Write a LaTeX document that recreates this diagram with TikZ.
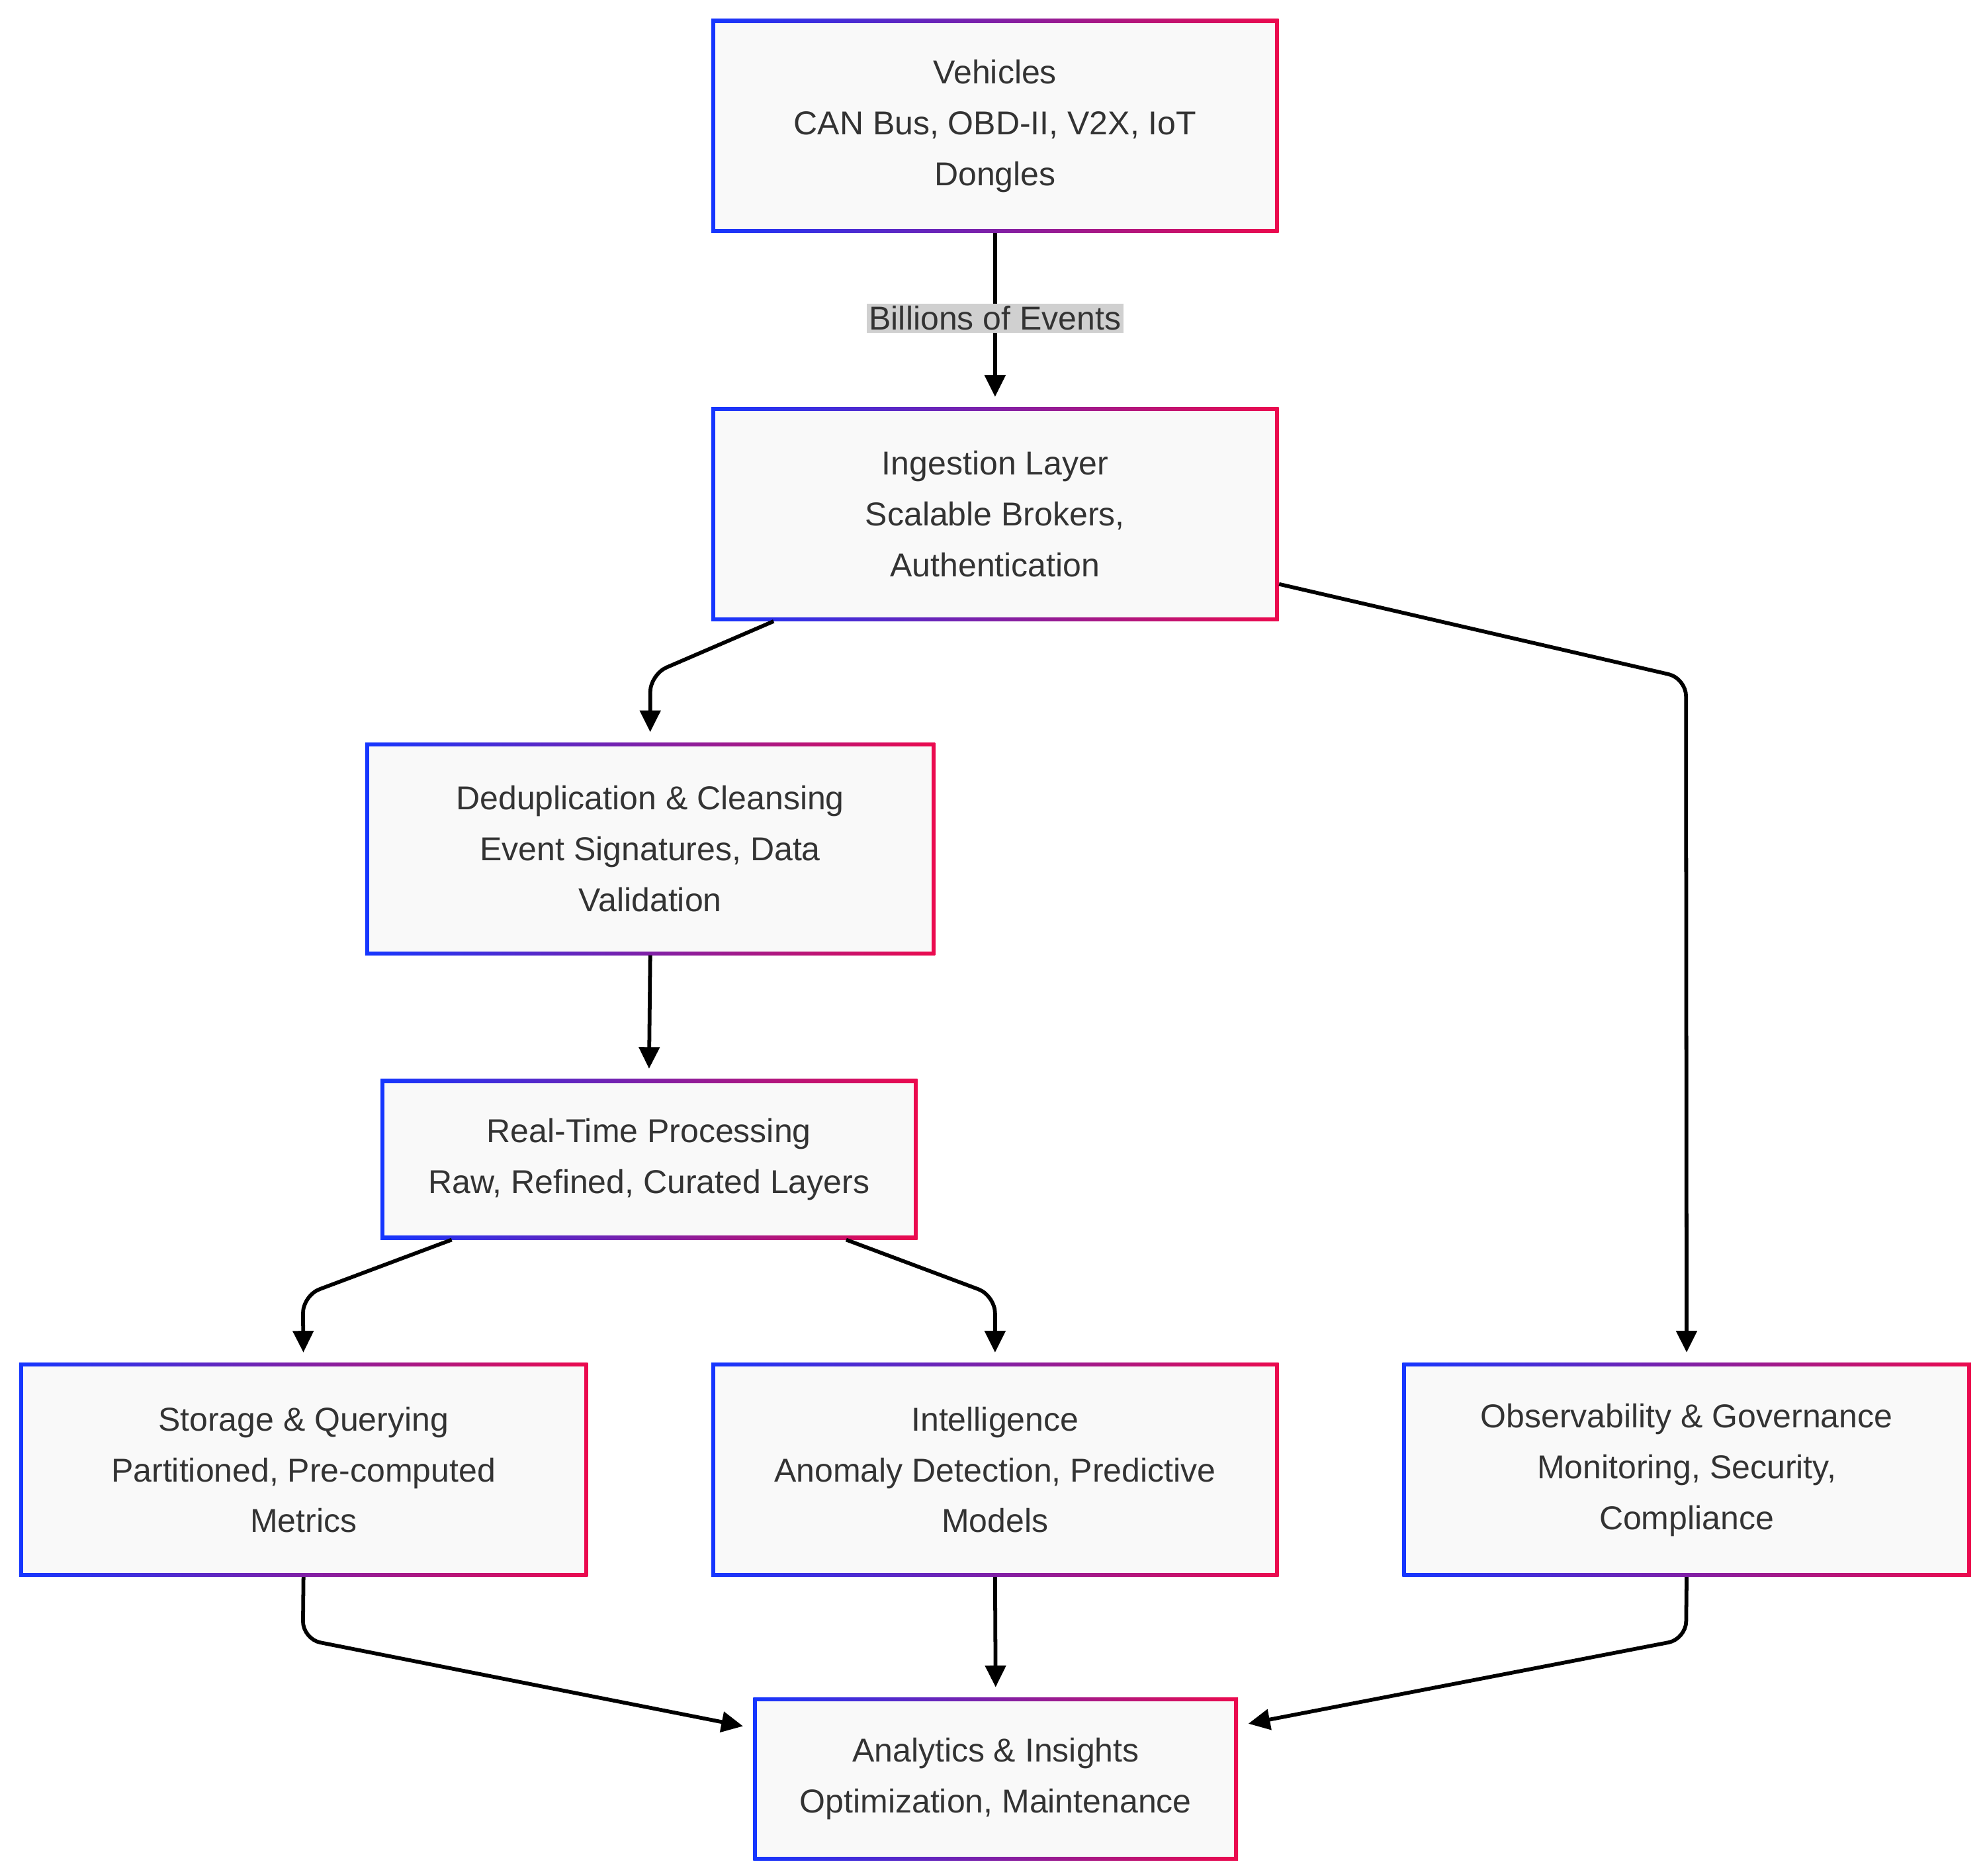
\documentclass[tikz,border=0pt]{standalone}
\usepackage{fontspec}
\setmainfont{Liberation Sans}
\usetikzlibrary{arrows.meta,calc}
\definecolor{bblue}{HTML}{1536FF}
\definecolor{bred}{HTML}{EB0A4E}
\definecolor{ifill}{HTML}{F9F9F9}
\definecolor{txt}{HTML}{333333}
\definecolor{lblgray}{HTML}{D0D0D0}
\newcommand{\mybox}[6]{%
  \shade[left color=bblue,right color=bred] (#2-#4/2,#3-#5/2) rectangle (#2+#4/2,#3+#5/2);
  \fill[ifill] (#2-#4/2+3,#3-#5/2+3) rectangle (#2+#4/2-3,#3+#5/2-3);
  \node[text=txt,minimum width=#4*1pt,minimum height=#5*1pt,align=center,font=\fontsize{26}{40}\selectfont,inner sep=0] (#1) at (#2,#3) {#6};}
\begin{document}
\begin{tikzpicture}[x=1pt,y=-1pt,
  arr/.style={line width=3pt,rounded corners=14pt,-{Triangle[length=17pt,width=16pt]},shorten >=8pt}]
\useasboundingbox[fill=white] (0,0) rectangle (1560,1474);
\mybox{veh}{782}{99}{446}{168}{Vehicles\\CAN Bus, OBD-II, V2X, IoT\\Dongles}
\mybox{ing}{782}{404}{446}{168}{Ingestion Layer\\Scalable Brokers,\\Authentication}
\mybox{dd}{511}{667}{448}{167}{Deduplication \& Cleansing\\Event Signatures, Data\\Validation}
\mybox{rt}{510}{911}{422}{126}{Real-Time Processing\\Raw, Refined, Curated Layers}
\mybox{st}{238.5}{1155}{447}{168}{Storage \& Querying\\Partitioned, Pre-computed\\Metrics}
\mybox{in}{782}{1155}{446}{168}{Intelligence\\Anomaly Detection, Predictive\\Models}
\mybox{ob}{1325.5}{1155}{447}{168}{Observability \& Governance\\Monitoring, Security,\\Compliance}
\mybox{an}{782.5}{1398}{381}{128}{Analytics \& Insights\\Optimization, Maintenance}

\draw[arr] (veh.south) -- (ing.north);
\node[fill=lblgray,text=txt,font=\fontsize{26}{30}\selectfont,inner sep=2pt] (lb) at (782,250) {Billions of Events};
\draw[arr] ([xshift=-174pt]ing.south) -- (511,530) -- (dd.north);
\draw[arr] ([yshift=-55pt]ing.east) -- (1325,533) -- (ob.north);
\draw[arr] (dd.south) -- (rt.north);
\draw[arr] ([xshift=-155pt]rt.south) -- (238,1018) -- (st.north);
\draw[arr] ([xshift=155pt]rt.south) -- (782,1018) -- (in.north);
\draw[arr] (st.south) -- (238,1288) -- ([yshift=40pt]an.west);
\draw[arr] (in.south) -- (an.north);
\draw[arr] (ob.south) -- (1325,1288) -- ([yshift=42pt]an.east);
\end{tikzpicture}
\end{document}
